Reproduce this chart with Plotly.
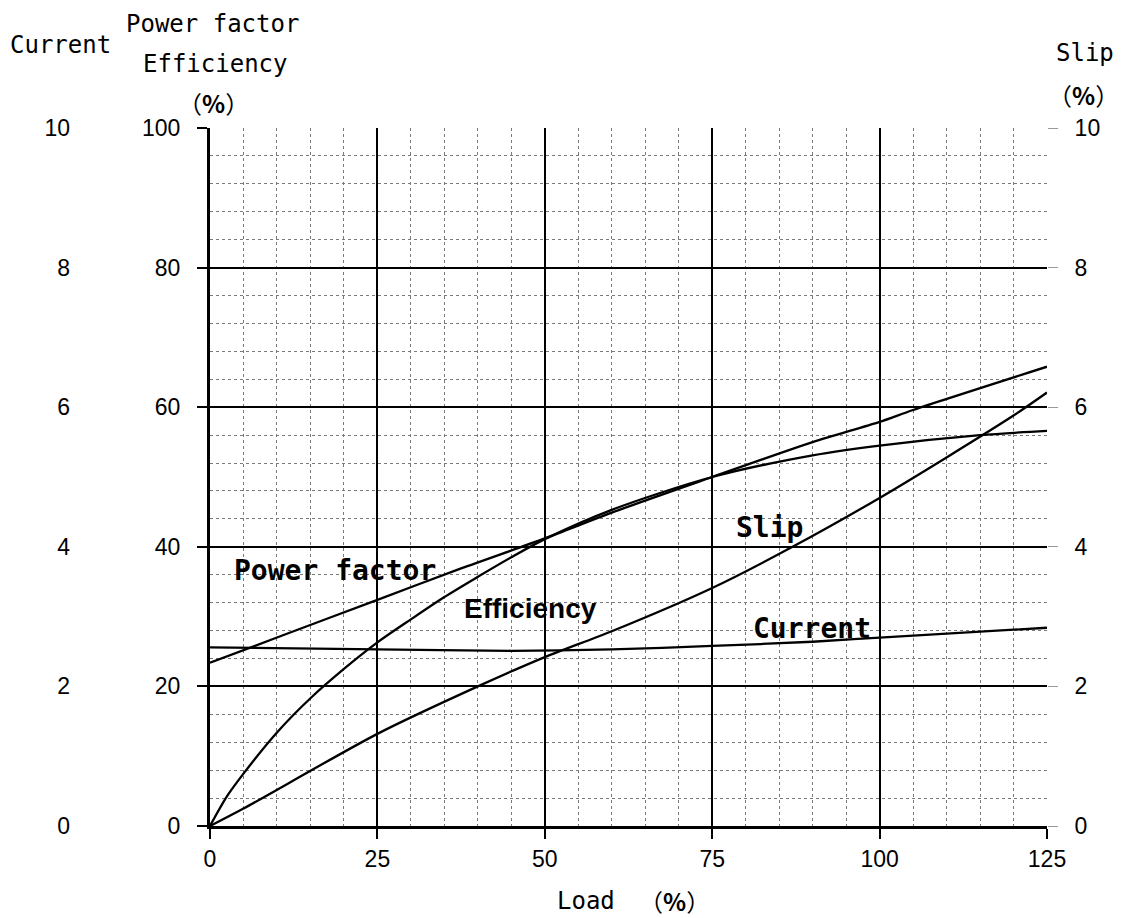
import plotly.graph_objects as go

# ---- data ----
load_pf = [0, 10, 25, 37.5, 50, 60, 75, 90, 100, 105, 125]
power_factor = [23.4, 27.0, 32.4, 36.9, 41.2, 44.9, 50.0, 55.0, 57.9, 59.6, 65.8]

load_eff = [0, 2.5, 5, 10, 15, 20, 25, 30, 35, 40, 45, 50, 60, 75, 90, 100, 115, 125]
efficiency = [0, 4.2, 7.5, 13.4, 18.3, 22.5, 26.3, 29.6, 32.8, 35.7, 38.5, 41.1, 45.3, 50.0, 53.1, 54.5, 56.0, 56.6]

load_slip = [0, 5, 25, 40, 50, 60, 75, 87, 100, 110, 120, 125]
slip = [0, 0.25, 1.32, 2.0, 2.42, 2.79, 3.41, 4.0, 4.7, 5.28, 5.88, 6.21]

load_cur = [0, 25, 45, 60, 75, 90, 100, 125]
current = [2.56, 2.53, 2.51, 2.53, 2.58, 2.64, 2.70, 2.84]

x_ticks = [0, 25, 50, 75, 100, 125]
pct_ticks = [0, 20, 40, 60, 80, 100]
small_ticks = [0, 2, 4, 6, 8, 10]

# ---- layout geometry (page has an 8px body margin) ----
OFF = 8
W, H = 1125 - OFF, 918 - OFF
ML, MR, MT, MB = 0, 78, 128 - OFF, 92
PW = W - ML - MR
PH = H - MT - MB
PLOT_LEFT = 210

def px(xp):
    return (xp - OFF - ML) / PW

def py(yp):
    return (H - MB - (yp - OFF)) / PH

MONO = "DejaVu Sans Mono"
SANS = "Liberation Sans"
CJK = "Noto Sans CJK JP"

line_style = dict(color="black", width=2.3, shape="spline", smoothing=0.8)

fig = go.Figure()
fig.add_trace(go.Scatter(x=load_pf, y=power_factor, mode="lines", line=line_style,
                         name="Power factor", yaxis="y"))
fig.add_trace(go.Scatter(x=load_eff, y=efficiency, mode="lines", line=line_style,
                         name="Efficiency", yaxis="y"))
fig.add_trace(go.Scatter(x=load_slip, y=slip, mode="lines", line=line_style,
                         name="Slip", yaxis="y2"))
fig.add_trace(go.Scatter(x=load_cur, y=current, mode="lines", line=line_style,
                         name="Current", yaxis="y3"))

tickfont = dict(family=SANS, size=23, color="black")
minor_grid = dict(showgrid=True, gridcolor="#7a7a7a", griddash="dot", gridwidth=1, ticks="")

fig.update_layout(
    template="none",
    width=W, height=H,
    autosize=False,
    margin=dict(l=ML, r=MR, t=MT, b=MB, pad=0),
    paper_bgcolor="white",
    plot_bgcolor="white",
    showlegend=False,
    font=dict(family=SANS, color="black"),
    xaxis=dict(
        domain=[px(PLOT_LEFT), 1], range=[0, 125],
        tickvals=x_ticks, ticks="outside", ticklen=10, tickwidth=2, tickcolor="black",
        tickfont=tickfont, ticklabelstandoff=0,
        showgrid=True, gridcolor="black", gridwidth=2,
        minor=dict(dtick=5, **minor_grid),
        showline=True, linecolor="black", linewidth=3, zeroline=False, automargin=False,
    ),
    yaxis=dict(
        range=[0, 100], tickvals=pct_ticks, ticks="outside", ticklen=10, tickwidth=2,
        tickcolor="black", tickfont=tickfont, ticklabelstandoff=12,
        showgrid=True, gridcolor="black", gridwidth=2,
        minor=dict(dtick=4, **minor_grid),
        showline=True, linecolor="black", linewidth=3, zeroline=False, automargin=False,
        anchor="x",
    ),
    yaxis2=dict(
        range=[0, 10], tickvals=small_ticks, overlaying="y", side="right", anchor="x",
        ticks="outside", ticklen=10, tickwidth=1, tickcolor="#999999",
        tickfont=tickfont, ticklabelstandoff=12,
        showgrid=False, showline=False, zeroline=False, automargin=False,
    ),
    yaxis3=dict(
        range=[0, 10], tickvals=small_ticks, overlaying="y", side="left",
        anchor="free", position=px(70),
        ticks="", tickfont=tickfont,
        showgrid=False, showline=False, zeroline=False, automargin=False,
    ),
)

annotations = [
    # axis titles (outside the plot)
    dict(text="Current", x=px(60), y=py(45), xref="paper", yref="paper",
         font=dict(family=MONO, size=24, color="black")),
    dict(text="Power factor", x=px(212), y=py(24), xref="paper", yref="paper",
         font=dict(family=MONO, size=24, color="black")),
    dict(text="Efficiency", x=px(215), y=py(64), xref="paper", yref="paper",
         font=dict(family=MONO, size=24, color="black")),
    dict(text="（<b>%</b>）", x=px(213), y=py(102), xref="paper", yref="paper",
         font=dict(family=CJK, size=24, color="black")),
    dict(text="Slip", x=px(1085), y=py(53), xref="paper", yref="paper",
         font=dict(family=MONO, size=24, color="black")),
    dict(text="（<b>%</b>）", x=px(1083), y=py(95), xref="paper", yref="paper",
         font=dict(family=CJK, size=24, color="black")),
    dict(text="Load", x=px(586), y=py(901), xref="paper", yref="paper",
         font=dict(family=MONO, size=24, color="black")),
    dict(text="（<b>%</b>）", x=px(674), y=py(901), xref="paper", yref="paper",
         font=dict(family=CJK, size=24, color="black")),
    # curve labels (in the plot)
    dict(text="<b>Power factor</b>", x=18.6, y=36.6, xref="x", yref="y",
         font=dict(family=MONO, size=28, color="black")),
    dict(text="<b>Efficiency</b>", x=47.9, y=31.2, xref="x", yref="y",
         font=dict(family=SANS, size=28, color="black")),
    dict(text="<b>Slip</b>", x=83.6, y=42.8, xref="x", yref="y",
         font=dict(family=MONO, size=28, color="black")),
    dict(text="<b>Current</b>", x=89.9, y=28.3, xref="x", yref="y",
         font=dict(family=MONO, size=28, color="black")),
]
for a in annotations:
    a.update(showarrow=False, xanchor="center", yanchor="middle")
fig.update_layout(annotations=annotations)

fig.write_html("out.html")
